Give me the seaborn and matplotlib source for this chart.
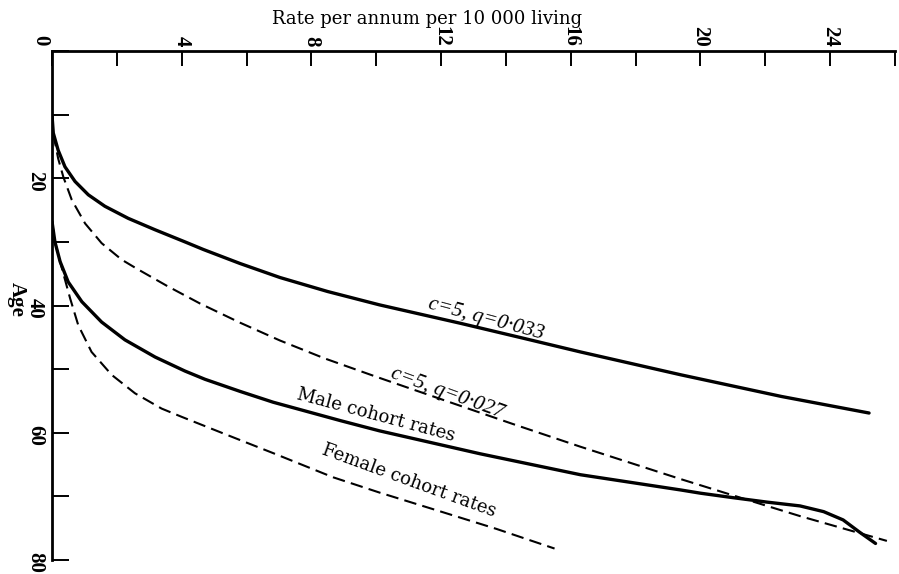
import numpy as np
import matplotlib
matplotlib.use("Agg")
import matplotlib.pyplot as plt
import matplotlib.transforms as mtransforms
import seaborn as sns

# Death rate per annum per 10 000 living, by age
q033_rate = [0, 0.04, 0.19, 0.40, 0.71, 1.12, 1.63, 2.35, 3.18, 4.1, 4.67, 5.8,
             7.03, 8.5, 10.1, 12.6, 14.5, 16.3, 19.4, 22.5, 25.2]
q033_age = [10.1, 12.9, 15.6, 18.2, 20.5, 22.6, 24.4, 26.3, 28.1, 30.0, 31.2, 33.4,
            35.6, 37.8, 39.9, 42.8, 45.1, 47.3, 50.9, 54.3, 56.9]

q027_rate = [0, 0.04, 0.19, 0.35, 0.61, 1.02, 1.53, 2.15, 2.61, 3.54, 4.57, 5.8,
             7.03, 8.4, 10.0, 12.1, 14.2, 16.3, 19.4, 22.05, 23.07, 24.1, 25.75]
q027_age = [10.1, 13.0, 16.9, 19.8, 23.4, 27.1, 30.2, 32.8, 34.2, 36.9, 39.7, 42.7,
            45.5, 48.3, 51.2, 54.9, 58.6, 62.2, 67.3, 71.5, 73.1, 74.6, 77.0]

male_rate = [0, 0.09, 0.25, 0.5, 0.92, 1.53, 2.25, 3.18, 4.1, 4.72, 5.8, 6.82,
             8.9, 10.1, 13.2, 16.3, 19.4, 20.0, 21.0, 22.05, 23.07, 23.8, 24.4,
             24.9, 25.4]
male_age = [26.8, 30.0, 33.1, 36.3, 39.4, 42.6, 45.4, 48.1, 50.3, 51.6, 53.5, 55.2,
            58.1, 59.7, 63.3, 66.6, 69.0, 69.5, 70.2, 70.9, 71.5, 72.4, 73.7,
            75.6, 77.4]

female_rate = [0, 0.09, 0.25, 0.35, 0.56, 0.81, 1.22, 1.84, 2.56, 3.38, 4.0, 5.28,
               6.82, 8.67, 10.1, 12.0, 13.7, 15.5]
female_age = [26.8, 30.0, 33.1, 35.0, 38.9, 43.1, 47.3, 50.9, 53.8, 56.2, 57.5, 60.1,
              63.2, 67.0, 69.4, 72.4, 75.1, 78.2]

x_ticks = list(range(0, 27, 2))
x_labels = [str(v) if v % 4 == 0 and v > 0 else "" for v in x_ticks]
y_ticks = list(range(0, 81, 10))
y_labels = [str(v) if v % 20 == 0 and v > 0 else "" for v in y_ticks]

sns.set_style("ticks")
plt.rcParams["font.family"] = ["Liberation Serif", "DejaVu Serif"]
plt.rcParams["text.color"] = "black"
plt.rcParams["axes.labelcolor"] = "black"

fig = plt.figure(figsize=(8.99, 5.74), dpi=100)
ax = fig.add_axes([52 / 899, 14 / 574, 843 / 899, 509 / 574])

solid = dict(color="black", lw=2.4, sort=False, estimator=None, ax=ax)
dashed = dict(color="black", lw=1.5, sort=False, estimator=None, ax=ax,
              linestyle=(0, (6, 3)))
sns.lineplot(x=q033_rate, y=q033_age, **solid)
sns.lineplot(x=q027_rate, y=q027_age, **dashed)
sns.lineplot(x=male_rate, y=male_age, **solid)
sns.lineplot(x=female_rate, y=female_age, **dashed)

ax.set_xlim(0, 26)
ax.set_ylim(80, 0)
ax.xaxis.tick_top()
ax.xaxis.set_label_position("top")
ax.set_xticks(x_ticks)
ax.set_xticklabels(x_labels)
ax.set_yticks(y_ticks)
ax.set_yticklabels(y_labels)
ax.tick_params(axis="x", direction="in", length=11, width=1.4, pad=3,
               labelrotation=-90, labelsize=15, colors="black")
ax.tick_params(axis="y", direction="in", length=12, width=1.4, pad=5,
               labelrotation=-90, labelsize=15, colors="black")
for lab in ax.get_xticklabels() + ax.get_yticklabels():
    lab.set_fontweight("bold")

for side in ("right", "bottom"):
    ax.spines[side].set_visible(False)
for side in ("left", "top"):
    ax.spines[side].set_linewidth(2)
    ax.spines[side].set_color("black")

ax.set_xlabel("Rate per annum per 10 000 living", fontsize=13,
              family=["DejaVu Serif"], color="black")
ax.xaxis.set_label_coords(0.445, 1.054)
ax.set_ylabel("Age", fontsize=15, rotation=-90, fontweight="bold",
              ha="center", va="center", color="black")
ax.yaxis.set_label_coords(-0.0415, 0.511)

# shared origin label in the corner
off = mtransforms.ScaledTranslation(-12 / 100, 11 / 100, fig.dpi_scale_trans)
ax.text(0, 0, "0", transform=ax.transData + off, rotation=-90, ha="center",
        va="center", fontsize=15, fontweight="bold", color="black")

lab_kw = dict(ha="center", va="center", rotation_mode="anchor", color="black")
ax.text(13.4, 42.2, "c=5, q=0\u00b7033", rotation=-15, style="italic",
        fontsize=15.5, **lab_kw)
ax.text(12.2, 53.9, "c=5, q=0\u00b7027", rotation=-20, style="italic",
        fontsize=15.5, **lab_kw)
ax.text(10.0, 57.3, "Male cohort rates", rotation=-15, fontsize=13,
        family=["DejaVu Serif"], **lab_kw)
ax.text(11.0, 67.5, "Female cohort rates", rotation=-20, fontsize=13,
        family=["DejaVu Serif"], **lab_kw)

fig.savefig("out.png", dpi=100)
